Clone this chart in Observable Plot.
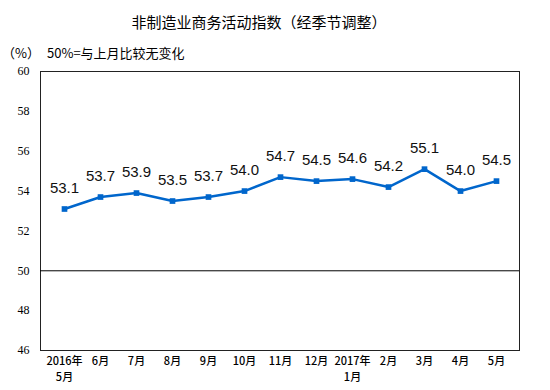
<!DOCTYPE html>
<html>
<head>
<meta charset="utf-8">
<script src="https://cdn.jsdelivr.net/npm/d3@7"></script>
<script src="https://cdn.jsdelivr.net/npm/@observablehq/plot@0.6"></script>
<style>
  body { margin: 0; background: #fff; }
  #wrap { position: relative; width: 550px; height: 390px; font-family: "Noto Sans CJK SC", sans-serif; }
  .t { position: absolute; white-space: nowrap; color: #000; }
  #title { left: 0; width: 518px; top: 11px; text-align: center; font-size: 15px; font-weight: 400; }
  #unit { left: 2px; top: 43px; font-size: 13px; }
  #note { left: 47px; top: 43px; font-size: 13px; }
  #chart { position: absolute; left: 0; top: 62px; }
</style>
</head>
<body>
<div id="wrap">
  <div class="t" id="title">非制造业商务活动指数（经季节调整）</div>
  <div class="t" id="unit">（%）</div>
  <div class="t" id="note">50%=与上月比较无变化</div>
  <div id="chart"></div>
</div>
<script>
const months = ["2016年\n5月","6月","7月","8月","9月","10月","11月","12月","2017年\n1月","2月","3月","4月","5月"];
const values = [53.1,53.7,53.9,53.5,53.7,54.0,54.7,54.5,54.6,54.2,55.1,54.0,54.5];
const yTicks = [46,48,50,52,54,56,58,60];

const data = months.map((m, i) => ({month: m, value: values[i]}));

const chart = Plot.plot({
  width: 550,
  height: 328,
  marginTop: 9,
  marginBottom: 40,
  marginLeft: 40,
  marginRight: 31,
  style: {background: "#fff", overflow: "visible"},
  x: {type: "point", domain: months, padding: 0.5, label: null},
  y: {domain: [46, 60], label: null},
  marks: [
    Plot.frame({stroke: "#222", strokeWidth: 1}),
    Plot.ruleY([50], {stroke: "#000", strokeWidth: 1}),
    Plot.axisY({ticks: yTicks, tickSize: 0, tickPadding: 11, fontSize: 12, fontFamily: "Liberation Serif", fill: "#000", label: null}),
    Plot.axisX({tickSize: 0, tickPadding: 3, fontSize: 11, fontFamily: "Noto Sans CJK SC", fontWeight: 500, fill: "#000", lineHeight: 1.45, label: null}),
    Plot.line(data, {x: "month", y: "value", stroke: "#0066CC", strokeWidth: 2.5}),
    Plot.dot(data, {x: "month", y: "value", symbol: "square", r: 3.2, fill: "#0066CC", stroke: "none"}),
    Plot.text(data, {x: "month", y: "value", text: d => d.value.toFixed(1), dy: -21, fontSize: 15, fontFamily: "Liberation Sans", fill: "#111"})
  ]
});
document.getElementById("chart").appendChild(chart);
</script>
</body>
</html>
